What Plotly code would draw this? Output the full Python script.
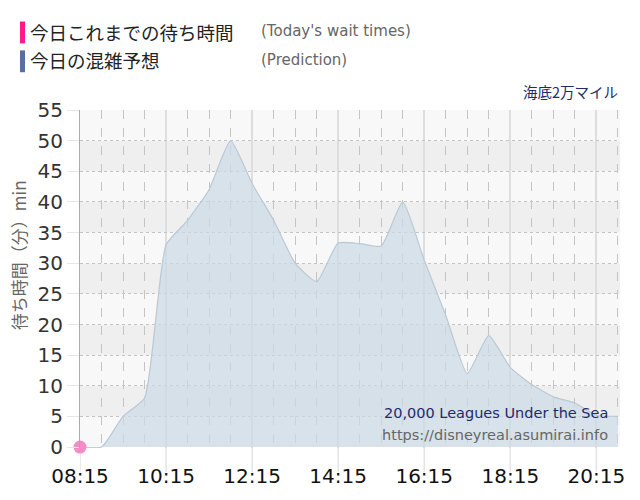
import plotly.graph_objects as go

# ---- data ----
pred_times = ["08:15", "08:45", "09:15", "09:45", "10:15", "10:45", "11:15", "11:45",
              "12:15", "12:45", "13:15", "13:45", "14:15", "14:45", "15:15", "15:45",
              "16:15", "16:45", "17:15", "17:45", "18:15", "18:45", "19:15", "19:45",
              "20:15", "20:45"]
pred_values = [0, 0, 5, 8, 33, 37, 42, 50,
               43, 37, 30, 27, 33.3, 33.2, 32.8, 40,
               30.5, 21.5, 12, 18.2, 13, 10.2, 8.2, 7.2,
               5.2, 5]
today_times = ["08:15"]
today_values = [0]
x_tick_labels = ["08:15", "10:15", "12:15", "14:15", "16:15", "18:15", "20:15"]
y_ticks = [0, 5, 10, 15, 20, 25, 30, 35, 40, 45, 50, 55]

DAY = "2024-01-01 "
def ts(t):
    return DAY + t + ":00"

W, H = 640, 500
L, R, T, B = 80, 20, 110, 50
pw, ph = W - L - R, H - T - B

fig = go.Figure()

# alternating background bands
for lo in range(0, 55, 5):
    fig.add_shape(type="rect", xref="paper", yref="y", x0=0, x1=1, y0=lo, y1=lo + 5,
                  fillcolor="#efefef" if (lo // 5) % 2 == 1 else "#f8f8f8",
                  line_width=0, layer="below")

# major vertical lines extending below the plot
for t in x_tick_labels:
    fig.add_shape(type="line", xref="x", yref="paper", x0=ts(t), x1=ts(t), y0=-0.07, y1=0,
                  line=dict(color="#e4e4e4", width=1.5), layer="below")

fig.add_trace(go.Scatter(
    x=[ts(t) for t in pred_times], y=pred_values, mode="lines",
    line=dict(color="#b9c9d5", width=1.2, shape="spline", smoothing=0.5),
    fill="tozeroy", fillcolor="rgba(203,217,229,0.72)", hoverinfo="skip", showlegend=False))

fig.add_trace(go.Scatter(
    x=[ts(t) for t in today_times], y=today_values, mode="markers",
    marker=dict(color="#f48cc6", size=13), cliponaxis=False, showlegend=False))

def px_ann(text, x, y, xanchor, size, color, family, textangle=0):
    return dict(text=text, x=(x - L) / pw, y=(H - B - y) / ph, xref="paper", yref="paper",
                showarrow=False, xanchor=xanchor, yanchor="middle", textangle=textangle,
                font=dict(family=family, size=size, color=color))

JP = "Noto Sans CJK JP"
EN = "DejaVu Sans"
annotations = [
    px_ann("今日これまでの待ち時間", 28, 32, "left", 18.5, "#222", JP),
    px_ann("今日の混雑予想", 28, 60, "left", 18.5, "#222", JP),
    px_ann("(Today's wait times)", 259, 31, "left", 15, "#666", EN),
    px_ann("(Prediction)", 259, 60, "left", 15, "#666", EN),
    px_ann("海底2万マイル", 620, 91, "right", 14.5, "#1f2a6b", JP),
    px_ann("20,000 Leagues Under the Sea", 610, 415, "right", 14.5, "#1f2a6b", EN),
    px_ann("https://disneyreal.asumirai.info", 610, 437, "right", 14.5, "#666", EN),
    px_ann("待ち時間（分）min", 18, 256, "center", 17, "#666", JP, textangle=-90),
]

fig.update_layout(
    width=W, height=H,
    margin=dict(l=L, r=R, t=T, b=B),
    paper_bgcolor="white", plot_bgcolor="rgba(0,0,0,0)",
    xaxis=dict(
        type="date",
        range=[ts("08:15"), "2024-01-01 20:48:00"],
        tickmode="linear", tick0=ts(x_tick_labels[0]), dtick=2 * 3600000,
        tickformat="%H:%M",
        tickfont=dict(family=EN, size=20, color="#111"),
        showgrid=True, gridcolor="#dedede", gridwidth=1.5,
        zeroline=False, showline=False, ticks="",
        minor=dict(tickmode="linear", tick0=ts("08:15"), dtick=1800000, showgrid=True,
                   gridcolor="#c4c4c4", griddash="dash", gridwidth=1),
        ticklabelstandoff=14,
    ),
    yaxis=dict(
        range=[-0.15, 55], tickvals=y_ticks,
        tickfont=dict(family=EN, size=20, color="#333"),
        showgrid=True, gridcolor="#c4c4c4", griddash="dot", gridwidth=1,
        zeroline=False, showline=True, linecolor="#aaaaaa", linewidth=1,
        ticks="outside", ticklen=12, tickcolor="#e6e6e6",
    ),
    annotations=annotations,
)

# legend colour bars (pixel -> paper)
def rect_px(x0, y0, x1, y1, color):
    fig.add_shape(type="rect", xref="paper", yref="paper",
                  x0=(x0 - L) / pw, x1=(x1 - L) / pw,
                  y0=(H - B - y1) / ph, y1=(H - B - y0) / ph,
                  fillcolor=color, line_width=0)
rect_px(20, 21, 25, 43, "#ff1a8c")
rect_px(20, 50, 25, 72, "#5b6f9e")

fig.write_html("out.html")
